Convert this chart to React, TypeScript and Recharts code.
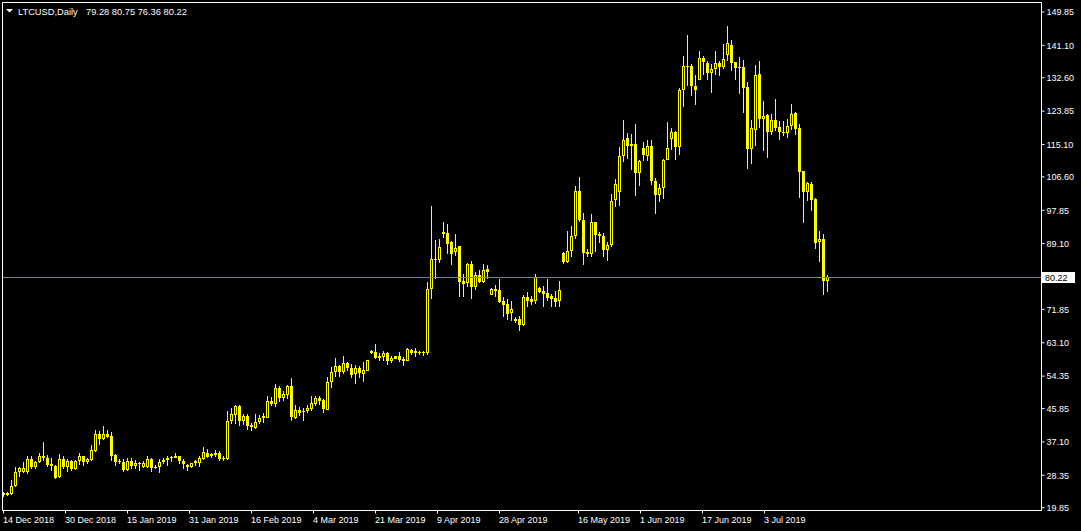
import React from 'react';
import { ComposedChart, Bar, XAxis, YAxis, ReferenceLine } from 'recharts';

const symbolTitle = 'LTCUSD,Daily';
const lastBarText = '79.28 80.75 76.36 80.22';
const lastPrice = 80.22;

const opens = [
  23.6, 23.1, 23.5, 25.6, 29.1, 29.1, 29.1, 32.7, 30.5, 31.9,
  33.5, 32.9, 31.2, 30.8, 27.8, 32.7, 30.6, 32.0, 29.9, 32.0,
  33.5, 31.7, 32.4, 34.7, 39.2, 37.8, 39.2, 38.7, 33.6, 32.2,
  31.9, 29.8, 32.2, 30.8, 31.5, 30.6, 30.6, 32.6, 30.4, 30.4,
  31.9, 32.4, 33.0, 33.4, 33.4, 32.2, 31.0, 30.6, 31.5, 31.5,
  32.7, 34.3, 33.3, 33.6, 34.3, 33.0, 32.7, 42.6, 44.2, 46.6,
  42.6, 43.8, 41.5, 40.8, 42.4, 43.8, 43.4, 47.8, 47.0, 51.3,
  48.5, 49.4, 51.7, 43.4, 45.5, 45.2, 45.2, 45.7, 47.0, 48.5,
  48.0, 45.5, 52.7, 55.5, 56.9, 55.4, 57.7, 56.6, 54.8, 56.6,
  55.0, 55.7, 61.0, 60.6, 59.7, 59.4, 60.5, 58.4, 59.6, 59.6,
  58.9, 58.4, 61.3, 60.5, 60.7, 60.6, 60.4, 77.1, 85.0, 84.7,
  92.2, 92.0, 89.4, 86.8, 88.4, 79.4, 78.7, 83.8, 77.8, 80.8,
  79.1, 82.4, 75.7, 77.1, 76.9, 74.1, 73.3, 70.8, 69.4, 69.4,
  67.8, 75.0, 74.5, 74.0, 77.5, 76.8, 76.1, 75.4, 74.9, 74.0,
  86.6, 84.3, 87.1, 91.0, 103.0, 95.4, 86.9, 86.3, 94.8, 91.5,
  91.2, 87.3, 88.7, 100.6, 102.7, 112.1, 116.7, 115.1, 115.1, 107.6,
  114.2, 112.1, 114.6, 105.6, 101.8, 103.7, 111.1, 116.5, 118.3, 114.4,
  129.3, 135.8, 135.6, 130.5, 132.1, 137.9, 136.5, 133.9, 134.8, 136.5,
  135.5, 138.6, 141.2, 136.7, 135.5, 135.5, 130.2, 113.9, 119.0, 133.5,
  121.9, 122.8, 118.4, 121.6, 119.7, 118.4, 118.1, 120.0, 123.4, 119.3,
  108.1, 102.7, 104.8, 100.7, 89.5, 90.4, 79.28,
];

const highs = [
  24.0, 24.0, 27.0, 30.6, 30.4, 31.9, 33.5, 33.3, 32.2, 34.3,
  37.0, 33.6, 33.0, 31.0, 33.8, 33.3, 32.6, 32.4, 32.4, 34.3,
  33.5, 32.9, 36.4, 40.3, 40.0, 41.2, 40.3, 39.8, 33.8, 32.6,
  32.6, 32.9, 32.9, 32.4, 31.9, 32.0, 33.3, 33.0, 31.0, 32.6,
  32.9, 33.3, 33.3, 34.3, 33.4, 32.7, 31.2, 31.5, 32.4, 33.3,
  35.8, 35.3, 34.3, 35.0, 34.8, 33.4, 45.2, 45.9, 46.9, 46.7,
  44.3, 44.5, 42.0, 44.5, 44.1, 44.8, 49.1, 49.0, 52.2, 51.7,
  50.5, 52.0, 53.8, 46.9, 46.3, 46.1, 46.9, 49.1, 49.2, 49.2,
  48.4, 54.0, 56.8, 59.1, 57.3, 59.6, 58.0, 57.5, 57.3, 56.9,
  58.0, 58.7, 61.2, 62.7, 60.3, 61.0, 60.8, 59.6, 59.7, 60.6,
  59.4, 61.7, 61.5, 61.7, 60.9, 61.0, 79.1, 98.9, 90.1, 90.3,
  94.7, 94.2, 89.8, 91.7, 88.5, 81.2, 84.0, 84.5, 81.7, 82.2,
  83.8, 83.4, 77.5, 78.2, 79.8, 75.0, 74.5, 74.0, 69.8, 70.1,
  75.5, 76.4, 75.4, 81.2, 77.8, 78.0, 79.8, 75.9, 76.6, 79.4,
  86.9, 92.4, 93.8, 104.2, 106.5, 97.1, 87.7, 96.9, 94.9, 92.2,
  92.0, 89.6, 102.0, 106.0, 114.4, 121.6, 118.1, 117.9, 120.6, 111.0,
  115.8, 116.3, 116.2, 106.3, 104.8, 111.3, 120.9, 119.5, 118.6, 130.0,
  138.4, 143.7, 136.2, 133.2, 139.5, 138.3, 137.0, 136.2, 139.5, 136.9,
  141.4, 146.2, 142.5, 136.7, 138.1, 137.2, 131.4, 121.4, 136.0, 137.0,
  126.5, 123.2, 123.0, 127.0, 121.3, 121.3, 121.9, 125.6, 123.7, 120.5,
  108.1, 105.2, 105.3, 101.1, 92.5, 91.6, 80.75,
];

const lows = [
  22.6, 22.9, 23.3, 25.2, 27.8, 28.9, 28.7, 29.9, 29.9, 31.6,
  32.2, 30.4, 29.6, 27.5, 27.6, 29.9, 29.3, 29.6, 29.7, 31.1,
  30.9, 31.2, 32.2, 34.5, 36.3, 37.6, 38.2, 32.0, 30.7, 31.2,
  29.3, 29.6, 30.0, 30.1, 29.6, 30.2, 30.2, 29.3, 30.0, 29.0,
  31.4, 30.9, 31.9, 32.9, 31.4, 29.9, 29.6, 30.3, 30.9, 30.5,
  32.4, 32.9, 33.0, 33.2, 32.0, 32.2, 32.4, 41.7, 41.7, 41.2,
  41.5, 40.1, 39.9, 40.5, 41.7, 42.0, 43.3, 46.4, 46.3, 47.5,
  47.7, 48.4, 42.6, 43.1, 44.0, 42.6, 44.7, 45.2, 46.6, 46.8,
  44.7, 45.4, 51.3, 54.0, 54.1, 55.0, 55.6, 53.8, 52.4, 53.9,
  52.7, 55.6, 60.1, 58.9, 58.4, 58.4, 57.3, 57.7, 58.8, 58.0,
  56.9, 58.2, 59.8, 59.4, 59.9, 59.6, 60.0, 74.5, 79.9, 84.1,
  90.6, 86.3, 83.6, 85.9, 75.2, 75.2, 77.8, 74.7, 77.0, 78.7,
  78.9, 79.9, 75.7, 75.0, 73.5, 69.9, 69.1, 68.9, 68.4, 66.1,
  67.6, 72.6, 72.9, 73.3, 76.1, 72.4, 74.0, 72.6, 72.6, 72.4,
  83.8, 84.0, 85.7, 90.2, 94.8, 83.6, 85.7, 85.7, 86.8, 89.2,
  85.5, 84.5, 88.3, 98.6, 98.9, 110.4, 111.3, 108.4, 101.6, 104.1,
  110.7, 110.7, 104.4, 97.0, 99.9, 100.7, 111.0, 113.7, 111.1, 112.3,
  124.9, 130.4, 127.9, 125.5, 132.0, 133.4, 132.0, 128.6, 133.4, 133.0,
  134.9, 137.0, 134.4, 132.0, 128.3, 123.4, 108.6, 109.9, 114.8, 119.5,
  113.3, 111.6, 117.7, 118.6, 116.3, 117.2, 116.9, 118.8, 117.7, 101.1,
  94.4, 100.4, 97.6, 87.6, 84.4, 75.6, 76.36,
];

const closes = [
  23.2, 23.6, 25.6, 29.2, 30.3, 30.3, 32.7, 30.5, 31.9, 33.5,
  32.9, 31.0, 30.7, 27.7, 32.7, 30.6, 32.0, 29.9, 32.2, 33.5,
  31.7, 32.6, 34.9, 39.2, 37.8, 39.2, 38.5, 33.3, 31.7, 31.7,
  29.8, 32.2, 30.8, 31.5, 31.3, 31.6, 32.6, 30.3, 30.6, 31.9,
  32.4, 33.0, 33.1, 33.0, 32.0, 31.2, 30.6, 31.5, 32.0, 33.0,
  34.5, 33.1, 33.8, 34.3, 32.6, 32.6, 42.7, 44.3, 46.6, 42.6,
  43.8, 41.2, 41.0, 42.4, 43.5, 43.3, 47.7, 47.0, 51.3, 48.5,
  49.6, 51.7, 43.6, 45.5, 44.8, 45.0, 45.9, 47.3, 48.5, 47.7,
  45.7, 52.7, 55.5, 56.9, 55.4, 57.7, 56.6, 54.7, 56.6, 55.2,
  55.9, 58.5, 60.3, 59.1, 59.2, 60.5, 58.4, 59.1, 58.9, 58.5,
  58.4, 61.5, 60.3, 61.0, 60.6, 60.7, 77.1, 85.0, 84.7, 88.2,
  91.7, 89.1, 86.4, 88.0, 79.1, 78.4, 83.8, 77.8, 80.8, 79.1,
  82.2, 81.7, 77.1, 76.8, 73.8, 73.1, 70.6, 71.9, 68.9, 67.8,
  75.0, 74.1, 73.8, 80.3, 76.4, 75.9, 74.8, 74.7, 73.8, 77.0,
  84.3, 87.1, 91.2, 103.0, 95.2, 86.6, 86.3, 94.8, 91.3, 91.0,
  87.3, 88.7, 100.4, 104.8, 112.2, 116.3, 114.8, 114.8, 107.6, 110.9,
  112.3, 114.6, 105.5, 101.8, 103.7, 111.1, 114.2, 118.3, 114.4, 129.3,
  135.8, 135.5, 130.5, 129.3, 137.9, 136.7, 133.9, 134.8, 136.5, 135.5,
  137.4, 141.6, 136.5, 135.1, 135.1, 129.9, 113.9, 119.3, 133.4, 121.9,
  122.5, 118.4, 121.6, 119.5, 118.4, 118.1, 120.0, 123.2, 119.2, 107.9,
  102.7, 105.1, 100.6, 89.3, 90.4, 79.2, 80.22,
];

const dateTickIndex = [0, 15.5, 31, 46.5, 62, 77.5, 93, 108.5, 124, 143.75, 159.25, 174.75, 190.25];
const dateTickLabels = [
  '14 Dec 2018', '30 Dec 2018', '15 Jan 2019', '31 Jan 2019', '16 Feb 2019', '4 Mar 2019',
  '21 Mar 2019', '9 Apr 2019', '28 Apr 2019', '16 May 2019', '1 Jun 2019', '17 Jun 2019', '3 Jul 2019',
];
const priceTicks = [
  19.85, 28.35, 37.1, 45.85, 54.35, 63.1, 71.85, 80.22, 89.1, 97.85, 106.6, 115.1, 123.85, 132.6, 141.1, 149.85,
];

const X_MIN = -0.25;
const X_MAX = 259.5;
const Y_MIN = 19.11;
const Y_MAX = 152.34;

const FONT = '"Liberation Sans", Arial, sans-serif';
const YELLOW = '#ffff00';

const data = opens.map((o, i) => ({
  i,
  o,
  h: highs[i],
  l: lows[i],
  c: closes[i],
}));

const Candle = (props: any) => {
  const { x, y, width, height, payload } = props;
  if (!payload) return null;
  const { o, h, l, c } = payload;
  const cx = Math.floor(x + width / 2) + 0.5;
  const k = h - l > 0 ? height / (h - l) : 0;
  const yO = y + (h - o) * k;
  const yC = y + (h - c) * k;
  const top = Math.round(Math.min(yO, yC));
  const bot = Math.round(Math.max(yO, yC));
  const bull = c >= o;
  const yTop = Math.round(y);
  const yBot = Math.round(y + height);
  return (
    <g>
      <line x1={cx} x2={cx} y1={yTop} y2={yBot} stroke={YELLOW} strokeWidth={1} shapeRendering="crispEdges" />
      {bull ? (
        <rect
          x={cx - 1}
          y={top + 0.5}
          width={2}
          height={Math.max(bot - top - 1, 0.01)}
          fill="#000"
          stroke={YELLOW}
          strokeWidth={1}
        />
      ) : (
        <rect x={cx - 1.5} y={top} width={3} height={Math.max(bot - top, 1)} fill={YELLOW} shapeRendering="crispEdges" />
      )}
    </g>
  );
};

const DateTick = (props: any) => {
  const { x, payload } = props;
  const idx = dateTickIndex.indexOf(payload.value);
  const label = idx >= 0 ? dateTickLabels[idx] : '';
  return (
    <text x={x - 0.5} y={523} textAnchor="start" fill="#ffffff" fontSize={9} fontFamily={FONT}>
      {label}
    </text>
  );
};

const PriceTick = (props: any) => {
  const { x, y, payload } = props;
  const v = payload.value;
  if (v === lastPrice) {
    return (
      <g>
        <rect x={1042} y={y - 5.5} width={33} height={11} fill="#ffffff" />
        <text x={1045} y={y + 3.3} textAnchor="start" fill="#000000" fontSize={9} fontFamily={FONT}>
          {v.toFixed(2)}
        </text>
      </g>
    );
  }
  return (
    <text x={x} y={y + 3.3} textAnchor="start" fill="#ffffff" fontSize={9} fontFamily={FONT}>
      {v.toFixed(2)}
    </text>
  );
};

export default function App() {
  return (
    <div style={{ position: 'absolute', left: 0, top: 0, width: 1081, height: 531, background: '#000', overflow: 'hidden' }}>
      <ComposedChart
        width={1081}
        height={531}
        data={data}
        margin={{ top: 2.5, left: 2.5, right: 0, bottom: 0 }}
      >
        <XAxis
          dataKey="i"
          type="number"
          domain={[X_MIN, X_MAX]}
          allowDataOverflow
          ticks={dateTickIndex}
          interval={0}
          height={20.5}
          axisLine={{ stroke: '#ffffff', strokeWidth: 1 }}
          tickLine={{ stroke: '#ffffff', strokeWidth: 1 }}
          tickSize={3}
          tick={<DateTick />}
        />
        <YAxis
          orientation="right"
          type="number"
          domain={[Y_MIN, Y_MAX]}
          allowDataOverflow
          ticks={priceTicks}
          interval={0}
          width={39.5}
          axisLine={{ stroke: '#ffffff', strokeWidth: 1 }}
          tickLine={{ stroke: '#ffffff', strokeWidth: 1 }}
          tickSize={3}
          tickMargin={2}
          tick={<PriceTick />}
        />
        <ReferenceLine y={Y_MAX} stroke="#ffffff" strokeWidth={1} ifOverflow="extendDomain" />
        <ReferenceLine x={X_MIN} stroke="#ffffff" strokeWidth={1} ifOverflow="extendDomain" />
        <ReferenceLine y={lastPrice} stroke="#778899" strokeWidth={1} />
        <Bar
          dataKey={(d: any) => [d.l, d.h]}
          barSize={3}
          isAnimationActive={false}
          shape={<Candle />}
        />
      </ComposedChart>
      <svg
        width={300}
        height={24}
        style={{ position: 'absolute', left: 0, top: 0, pointerEvents: 'none' }}
      >
        <polygon points="6,9 13,9 9.5,12.5" fill="#ffffff" />
        <text x={18} y={15} fill="#ffffff" fontSize={9.3} fontFamily={FONT}>
          {symbolTitle}
        </text>
        <text x={86} y={15} fill="#ffffff" fontSize={9.3} fontFamily={FONT}>
          {lastBarText}
        </text>
      </svg>
    </div>
  );
}
